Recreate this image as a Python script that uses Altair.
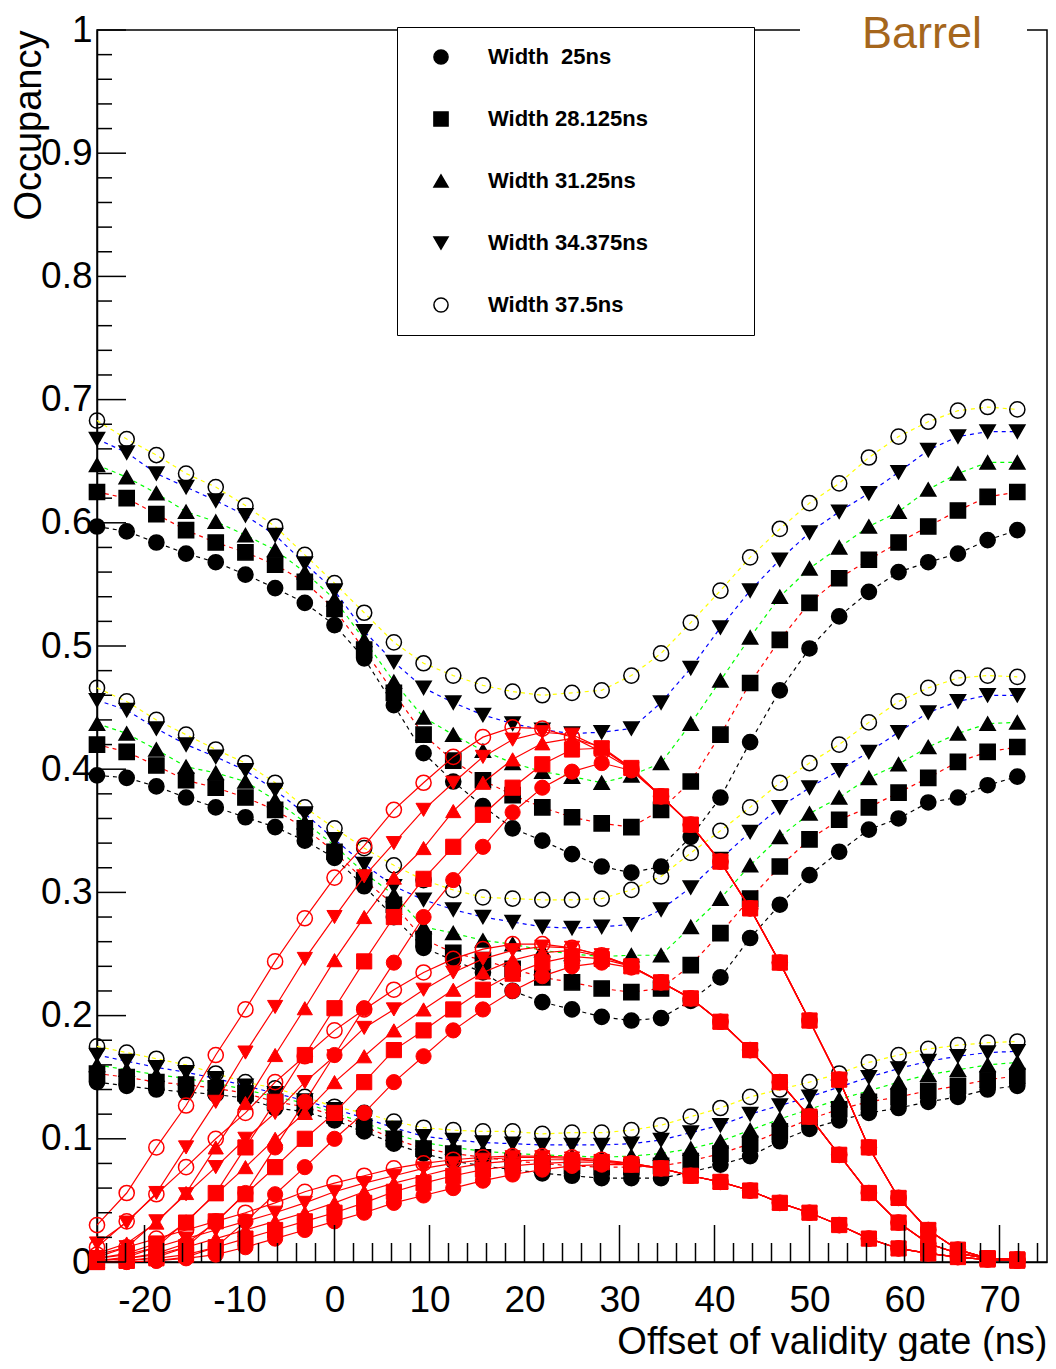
import altair as alt
import pandas as pd

# ---------------- data ----------------
X = [-25.0, -21.875, -18.75, -15.625, -12.5, -9.375, -6.25, -3.125, 0.0, 3.125, 6.25, 9.375,
     12.5, 15.625, 18.75, 21.875, 25.0, 28.125, 31.25, 34.375, 37.5, 40.625, 43.75, 46.875,
     50.0, 53.125, 56.25, 59.375, 62.5, 65.625, 68.75, 71.875]

WIDTHS = ["Width\u00a0\u00a025ns", "Width 28.125ns", "Width 31.25ns", "Width 34.375ns", "Width 37.5ns"]

# black (dashed) curves, high group
top_w25 = [0.597, 0.593, 0.584, 0.575, 0.568, 0.558, 0.547, 0.535, 0.517, 0.490, 0.452, 0.413, 0.390, 0.370, 0.352, 0.342,
           0.331, 0.321, 0.316, 0.321, 0.345, 0.377, 0.422, 0.464, 0.498, 0.524, 0.544, 0.560, 0.568, 0.575, 0.586, 0.594]
top_w28 = [0.625, 0.620, 0.607, 0.594, 0.584, 0.576, 0.566, 0.552, 0.530, 0.497, 0.462, 0.428, 0.407, 0.391, 0.379, 0.369,
           0.361, 0.356, 0.353, 0.367, 0.390, 0.428, 0.470, 0.505, 0.535, 0.555, 0.570, 0.584, 0.597, 0.610, 0.621, 0.625]
top_w31 = [0.647, 0.637, 0.624, 0.609, 0.601, 0.590, 0.578, 0.560, 0.538, 0.505, 0.471, 0.442, 0.428, 0.415, 0.405, 0.398,
           0.394, 0.389, 0.395, 0.405, 0.437, 0.472, 0.507, 0.540, 0.563, 0.580, 0.597, 0.609, 0.627, 0.640, 0.649, 0.649]
top_w34 = [0.668, 0.657, 0.640, 0.629, 0.618, 0.606, 0.590, 0.567, 0.545, 0.512, 0.487, 0.466, 0.454, 0.444, 0.437, 0.432,
           0.429, 0.430, 0.433, 0.454, 0.482, 0.515, 0.545, 0.570, 0.592, 0.609, 0.624, 0.641, 0.659, 0.670, 0.674, 0.674]
top_w37 = [0.683, 0.668, 0.655, 0.640, 0.629, 0.614, 0.597, 0.574, 0.551, 0.527, 0.503, 0.486, 0.476, 0.468, 0.463, 0.460,
           0.462, 0.464, 0.476, 0.494, 0.519, 0.545, 0.572, 0.595, 0.616, 0.632, 0.653, 0.670, 0.682, 0.691, 0.694, 0.692]

# black curves, middle group
mid_w25 = [0.395, 0.393, 0.386, 0.377, 0.369, 0.361, 0.353, 0.342, 0.328, 0.305, 0.280, 0.255, 0.245, 0.235, 0.220, 0.211,
           0.205, 0.199, 0.196, 0.198, 0.212, 0.231, 0.263, 0.290, 0.314, 0.333, 0.351, 0.360, 0.373, 0.377, 0.387, 0.394]
mid_w28 = [0.420, 0.414, 0.403, 0.391, 0.385, 0.377, 0.367, 0.352, 0.333, 0.310, 0.290, 0.262, 0.251, 0.245, 0.238, 0.231,
           0.227, 0.222, 0.219, 0.222, 0.241, 0.267, 0.295, 0.321, 0.343, 0.359, 0.369, 0.381, 0.393, 0.406, 0.414, 0.418]
mid_w31 = [0.437, 0.429, 0.416, 0.402, 0.397, 0.390, 0.375, 0.357, 0.338, 0.316, 0.298, 0.272, 0.267, 0.261, 0.258, 0.253,
           0.250, 0.248, 0.249, 0.249, 0.272, 0.295, 0.322, 0.345, 0.364, 0.377, 0.393, 0.404, 0.418, 0.429, 0.437, 0.438]
mid_w34 = [0.456, 0.448, 0.433, 0.420, 0.410, 0.399, 0.383, 0.364, 0.343, 0.323, 0.305, 0.294, 0.286, 0.280, 0.276, 0.272,
           0.271, 0.272, 0.274, 0.286, 0.304, 0.327, 0.349, 0.369, 0.385, 0.399, 0.414, 0.430, 0.446, 0.455, 0.460, 0.460]
mid_w37 = [0.466, 0.455, 0.440, 0.428, 0.416, 0.405, 0.389, 0.369, 0.352, 0.336, 0.322, 0.310, 0.302, 0.296, 0.295, 0.294,
           0.294, 0.295, 0.302, 0.313, 0.332, 0.350, 0.369, 0.389, 0.405, 0.420, 0.438, 0.455, 0.466, 0.474, 0.476, 0.475]

# black curves, low group
low_w25 = [0.146, 0.143, 0.140, 0.138, 0.136, 0.133, 0.125, 0.122, 0.115, 0.106, 0.096, 0.088, 0.082, 0.078, 0.075, 0.072,
           0.070, 0.068, 0.068, 0.068, 0.073, 0.079, 0.086, 0.098, 0.108, 0.115, 0.121, 0.125, 0.130, 0.134, 0.140, 0.143]
low_w28 = [0.153, 0.150, 0.146, 0.144, 0.141, 0.137, 0.130, 0.126, 0.119, 0.110, 0.100, 0.092, 0.088, 0.085, 0.082, 0.080,
           0.078, 0.077, 0.077, 0.078, 0.082, 0.088, 0.096, 0.106, 0.116, 0.124, 0.130, 0.134, 0.139, 0.143, 0.148, 0.151]
low_w31 = [0.160, 0.156, 0.152, 0.149, 0.145, 0.140, 0.134, 0.129, 0.121, 0.113, 0.104, 0.097, 0.093, 0.090, 0.088, 0.087,
           0.086, 0.085, 0.086, 0.088, 0.092, 0.098, 0.107, 0.116, 0.124, 0.132, 0.139, 0.146, 0.152, 0.156, 0.160, 0.162]
low_w34 = [0.168, 0.163, 0.158, 0.154, 0.149, 0.143, 0.137, 0.131, 0.124, 0.117, 0.109, 0.102, 0.099, 0.097, 0.096, 0.095,
           0.095, 0.095, 0.096, 0.099, 0.105, 0.111, 0.120, 0.127, 0.134, 0.142, 0.150, 0.157, 0.163, 0.167, 0.170, 0.171]
low_w37 = [0.175, 0.170, 0.165, 0.160, 0.153, 0.146, 0.141, 0.134, 0.126, 0.121, 0.114, 0.109, 0.107, 0.106, 0.106, 0.104,
           0.105, 0.105, 0.107, 0.111, 0.118, 0.125, 0.134, 0.140, 0.146, 0.153, 0.162, 0.168, 0.173, 0.176, 0.178, 0.179]

# red (solid) curves, high group
rt_w25 = [0.001, 0.003, 0.007, 0.015, 0.032, 0.056, 0.093, 0.130, 0.168, 0.206, 0.243, 0.280, 0.310, 0.337, 0.365, 0.385,
          0.398, 0.405, 0.399, 0.378, 0.355, 0.325, 0.287, 0.243, 0.196, 0.148, 0.093, 0.052, 0.026, 0.010, 0.003, 0.002]
rt_w28 = [0.003, 0.007, 0.015, 0.032, 0.056, 0.093, 0.130, 0.168, 0.206, 0.244, 0.280, 0.311, 0.337, 0.363, 0.385, 0.404,
          0.416, 0.417, 0.401, 0.378, 0.355, 0.325, 0.287, 0.243, 0.196, 0.148, 0.093, 0.052, 0.026, 0.010, 0.003, 0.002]
rt_w31 = [0.007, 0.015, 0.032, 0.056, 0.093, 0.129, 0.168, 0.206, 0.245, 0.280, 0.312, 0.336, 0.366, 0.389, 0.408, 0.421,
          0.425, 0.418, 0.401, 0.378, 0.355, 0.325, 0.287, 0.243, 0.196, 0.148, 0.093, 0.052, 0.026, 0.010, 0.003, 0.002]
rt_w34 = [0.015, 0.032, 0.056, 0.093, 0.130, 0.170, 0.207, 0.246, 0.280, 0.313, 0.340, 0.367, 0.389, 0.410, 0.424, 0.430,
          0.428, 0.417, 0.400, 0.378, 0.355, 0.325, 0.287, 0.243, 0.196, 0.148, 0.093, 0.052, 0.026, 0.010, 0.003, 0.002]
rt_w37 = [0.030, 0.056, 0.093, 0.127, 0.168, 0.205, 0.244, 0.279, 0.312, 0.338, 0.367, 0.389, 0.410, 0.426, 0.434, 0.433,
          0.426, 0.414, 0.400, 0.378, 0.355, 0.325, 0.287, 0.243, 0.196, 0.148, 0.093, 0.052, 0.026, 0.010, 0.003, 0.002]

# red curves, middle group
rm_w25 = [0.000, 0.000, 0.001, 0.004, 0.012, 0.033, 0.055, 0.077, 0.100, 0.121, 0.146, 0.167, 0.188, 0.205, 0.220, 0.232,
          0.240, 0.243, 0.239, 0.227, 0.214, 0.195, 0.172, 0.146, 0.118, 0.087, 0.056, 0.032, 0.015, 0.007, 0.003, 0.002]
rm_w28 = [0.000, 0.001, 0.004, 0.012, 0.033, 0.055, 0.077, 0.100, 0.121, 0.146, 0.172, 0.188, 0.205, 0.221, 0.234, 0.243,
          0.248, 0.246, 0.240, 0.227, 0.214, 0.195, 0.172, 0.146, 0.118, 0.087, 0.056, 0.032, 0.015, 0.007, 0.003, 0.002]
rm_w31 = [0.001, 0.004, 0.012, 0.033, 0.055, 0.077, 0.100, 0.121, 0.146, 0.167, 0.188, 0.205, 0.221, 0.235, 0.245, 0.251,
          0.253, 0.248, 0.240, 0.227, 0.214, 0.195, 0.172, 0.146, 0.118, 0.087, 0.056, 0.032, 0.015, 0.007, 0.003, 0.002]
rm_w34 = [0.004, 0.012, 0.033, 0.055, 0.077, 0.100, 0.121, 0.146, 0.167, 0.190, 0.205, 0.221, 0.235, 0.246, 0.253, 0.256,
          0.255, 0.249, 0.240, 0.227, 0.214, 0.195, 0.172, 0.146, 0.118, 0.087, 0.056, 0.032, 0.015, 0.007, 0.003, 0.002]
rm_w37 = [0.012, 0.033, 0.055, 0.077, 0.100, 0.121, 0.146, 0.167, 0.188, 0.205, 0.221, 0.235, 0.246, 0.254, 0.258, 0.258,
          0.255, 0.249, 0.240, 0.227, 0.214, 0.195, 0.172, 0.146, 0.118, 0.087, 0.056, 0.032, 0.015, 0.007, 0.003, 0.002]

# red curves, low group
rl_w25 = [0.000, 0.000, 0.001, 0.003, 0.006, 0.012, 0.019, 0.026, 0.033, 0.040, 0.048, 0.054, 0.060, 0.066, 0.071, 0.075,
          0.078, 0.079, 0.079, 0.076, 0.070, 0.065, 0.058, 0.048, 0.040, 0.030, 0.019, 0.011, 0.007, 0.004, 0.002, 0.001]
rl_w28 = [0.000, 0.001, 0.003, 0.006, 0.012, 0.019, 0.026, 0.033, 0.040, 0.048, 0.057, 0.064, 0.070, 0.075, 0.078, 0.080,
          0.081, 0.081, 0.079, 0.076, 0.070, 0.065, 0.058, 0.048, 0.040, 0.030, 0.019, 0.011, 0.007, 0.004, 0.002, 0.001]
rl_w31 = [0.001, 0.003, 0.006, 0.012, 0.019, 0.026, 0.033, 0.040, 0.048, 0.057, 0.064, 0.070, 0.076, 0.080, 0.082, 0.083,
          0.083, 0.082, 0.080, 0.076, 0.070, 0.065, 0.058, 0.048, 0.040, 0.030, 0.019, 0.011, 0.007, 0.004, 0.002, 0.001]
rl_w34 = [0.003, 0.006, 0.012, 0.019, 0.026, 0.033, 0.040, 0.048, 0.057, 0.064, 0.070, 0.076, 0.080, 0.083, 0.085, 0.085,
          0.084, 0.082, 0.080, 0.076, 0.070, 0.065, 0.058, 0.048, 0.040, 0.030, 0.019, 0.011, 0.007, 0.004, 0.002, 0.001]
rl_w37 = [0.006, 0.012, 0.019, 0.026, 0.033, 0.040, 0.048, 0.057, 0.064, 0.070, 0.076, 0.080, 0.083, 0.085, 0.086, 0.086,
          0.085, 0.083, 0.080, 0.076, 0.070, 0.065, 0.058, 0.048, 0.040, 0.030, 0.019, 0.011, 0.007, 0.004, 0.002, 0.001]

Y_TICKS = [0, 0.1, 0.2, 0.3, 0.4, 0.5, 0.6, 0.7, 0.8, 0.9, 1]
X_TICKS = [-20, -10, 0, 10, 20, 30, 40, 50, 60, 70]

BLACK_SERIES = {
    "high": [top_w25, top_w28, top_w31, top_w34, top_w37],
    "mid": [mid_w25, mid_w28, mid_w31, mid_w34, mid_w37],
    "low": [low_w25, low_w28, low_w31, low_w34, low_w37],
}
RED_SERIES = {
    "high": [rt_w25, rt_w28, rt_w31, rt_w34, rt_w37],
    "mid": [rm_w25, rm_w28, rm_w31, rm_w34, rm_w37],
    "low": [rl_w25, rl_w28, rl_w31, rl_w34, rl_w37],
}

rows = []
for kind, series in (("black", BLACK_SERIES), ("red", RED_SERIES)):
    for group, lists in series.items():
        for wi, vals in enumerate(lists):
            for xv, yv in zip(X, vals):
                rows.append({"kind": kind, "group": group, "w": WIDTHS[wi], "wi": wi,
                             "series": f"{kind}-{group}-{wi}", "x": xv, "y": yv})
df = pd.DataFrame(rows)
black_df = df[df.kind == "black"]
red_df = df[df.kind == "red"]

# ---------------- geometry / style ----------------
W, H = 950, 1232
FONT = "Liberation Sans"
MSIZE = 230

xscale = alt.Scale(domain=[-25, 75], nice=False, zero=False)
yscale = alt.Scale(domain=[0, 1], nice=False, zero=False)

x_axis = alt.Axis(values=X_TICKS, labelExpr="'' + datum.value", ticks=False, tickSize=0, grid=False,
                  domainColor="black", domainWidth=1.5, labelFont=FONT, labelFontSize=37,
                  labelColor="black", labelPadding=20, labelFlush=False, labelOverlap=False,
                  title="Offset of validity gate (ns)", titleFont=FONT, titleFontSize=38,
                  titleFontWeight="normal", titleColor="black", titleAnchor="end", titleAlign="right",
                  titleX=W, titleY=91, titleBaseline="alphabetic")
y_axis = alt.Axis(values=Y_TICKS, labelExpr="'' + datum.value", ticks=False, tickSize=0, grid=False,
                  domainColor="black", domainWidth=1.5, labelFont=FONT, labelFontSize=37,
                  labelColor="black", labelPadding=5, labelFlush=False, labelOverlap=False,
                  title="Occupancy", titleFont=FONT, titleFontSize=38, titleFontWeight="normal",
                  titleColor="black", titleAngle=270, titleAnchor="end", titleAlign="right",
                  titleBaseline="alphabetic", titleX=-57, titleY=0)


def xe(field="x"):
    return alt.X(f"{field}:Q", scale=xscale, axis=x_axis)


def ye(field="y"):
    return alt.Y(f"{field}:Q", scale=yscale, axis=y_axis)


# legend: an invisible title on the right only widens the box to the reference size
legend = alt.Legend(title="MMMM", titleOrient="right", titleOpacity=0, titleFont=FONT,
                    titleFontSize=20, titleFontWeight="bold", titlePadding=20,
                    orient="none", legendX=300, legendY=-3, direction="vertical",
                    fillColor="white", strokeColor="black", padding=19, rowPadding=40,
                    symbolSize=200, symbolStrokeWidth=1.5, symbolOffset=14, labelOffset=36,
                    labelFont=FONT, labelFontWeight="bold", labelFontSize=22, labelColor="black",
                    labelLimit=600, labelBaseline="middle")

SHAPES = ["circle", "square", "triangle-up", "triangle-down", "circle"]
DASH_COLORS = ["#000000", "#ff0000", "#00ff00", "#0000ff", "#ffff00"]
shape_scale = alt.Scale(domain=WIDTHS, range=SHAPES)

# dashed connecting lines, one colour per width (constant colour, no legend)
black_lines = [
    alt.Chart(black_df[black_df.wi == wi]).mark_line(strokeDash=[4, 4], strokeWidth=1.2,
                                                      color=DASH_COLORS[wi]).encode(
        x=xe(), y=ye(), detail="series:N")
    for wi in range(5)
]
black_points = alt.Chart(black_df).mark_point(filled=True, size=MSIZE, strokeWidth=1.5, opacity=1).encode(
    x=xe(), y=ye(),
    shape=alt.Shape("w:N", scale=shape_scale, legend=legend),
    fill=alt.Fill("w:N", scale=alt.Scale(domain=WIDTHS, range=["black", "black", "black", "black", "transparent"]),
                  legend=legend),
    stroke=alt.Stroke("w:N", scale=alt.Scale(domain=WIDTHS, range=["black"] * 5), legend=legend),
)
red_lines = alt.Chart(red_df).mark_line(color="#ff0000", strokeWidth=1.2).encode(
    x=xe(), y=ye(), detail="series:N",
)
red_layers = []
for wi in range(5):
    sub = red_df[red_df.wi == wi]
    if wi < 4:
        mk = alt.Chart(sub).mark_point(shape=SHAPES[wi], filled=True, fill="#ff0000", stroke="#ff0000",
                                       size=MSIZE, strokeWidth=1, opacity=1)
    else:
        mk = alt.Chart(sub).mark_point(shape="circle", filled=False, color="#ff0000",
                                       size=MSIZE, strokeWidth=1.5, opacity=1)
    red_layers.append(mk.encode(x=xe(), y=ye()))

# inward-pointing ticks
ymaj = pd.DataFrame({"v": Y_TICKS})
ymin = pd.DataFrame({"v": [round(i * 0.02, 2) for i in range(1, 50) if i % 5 != 0]})
xmaj = pd.DataFrame({"v": X_TICKS})
xmin = pd.DataFrame({"v": [v for v in range(-24, 75, 2) if v % 10 != 0]})

ytick_major = alt.Chart(ymaj).mark_rule(color="black", strokeWidth=1.5).encode(
    y=ye("v"), x=alt.value(0), x2=alt.value(29))
ytick_minor = alt.Chart(ymin).mark_rule(color="black", strokeWidth=1.5).encode(
    y=ye("v"), x=alt.value(0), x2=alt.value(15))
xtick_major = alt.Chart(xmaj).mark_rule(color="black", strokeWidth=1.5).encode(
    x=xe("v"), y=alt.value(H), y2=alt.value(H - 37))
xtick_minor = alt.Chart(xmin).mark_rule(color="black", strokeWidth=1.5).encode(
    x=xe("v"), y=alt.value(H), y2=alt.value(H - 19))

label_df = pd.DataFrame({"t": ["Barrel"]})
barrel_box = alt.Chart(label_df).mark_rect(color="white").encode(
    x=alt.value(703), x2=alt.value(930), y=alt.value(-12), y2=alt.value(12))
barrel_text = alt.Chart(label_df).mark_text(font=FONT, fontSize=45, color="#a5661c",
                                            align="center", baseline="alphabetic").encode(
    x=alt.value(825), y=alt.value(18), text="t:N")

chart = alt.layer(
    *black_lines, black_points, red_lines, *red_layers,
    ytick_major, ytick_minor, xtick_major, xtick_minor, barrel_box, barrel_text,
).properties(
    width=W, height=H,
    padding={"left": 89, "top": 22, "right": 1, "bottom": 99},
    autosize=alt.AutoSizeParams(type="none"),
    background="white",
).configure_view(
    stroke="black", strokeWidth=1.5
)

chart.save("out.html", embed_options={"renderer": "svg", "actions": False})
